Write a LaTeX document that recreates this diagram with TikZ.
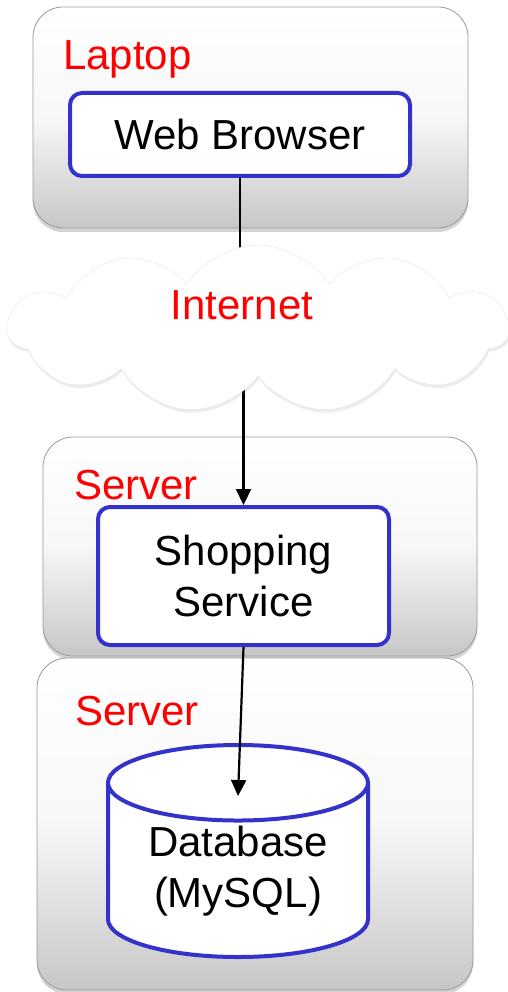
\documentclass[tikz,border=0pt]{standalone}
\usepackage{fontspec}
\setmainfont{Liberation Sans}
\usetikzlibrary{arrows.meta, positioning, shapes.geometric, shapes.symbols, shadows}
\definecolor{boxblue}{HTML}{3333CC}
\definecolor{tagred}{HTML}{FF0000}
\newcommand{\diagfont}{\fontsize{42}{51}\selectfont}

\begin{document}
\begin{tikzpicture}[x=1pt, y=1pt,
    machine/.style={rectangle, rounded corners=30pt, inner sep=0pt,
                    top color=white, bottom color=black!22, middle color=black!3,
                    draw=black!40, line width=0.8pt,
                    drop shadow={shadow xshift=0pt, shadow yshift=-4pt, opacity=0.35}},
    tag/.style={anchor=base west, inner sep=0pt, font=\diagfont, text=tagred},
    app/.style={rectangle, rounded corners=12pt, draw=boxblue, line width=4pt,
                fill=white, align=center, font=\diagfont, inner sep=0pt},
    arr/.style={-{Triangle[length=16pt, width=15pt]}, line width=2.2pt},
    link/.style={line width=2.2pt},
  ]
  \useasboundingbox (0,0) rectangle (508,-992);

  % machines
  \node[machine, minimum width=435, minimum height=221] (laptop) at (250.5,-117.5) {};
  \node[machine, minimum width=434, minimum height=219] (server1) at (260,-546.5) {};
  \node[machine, minimum width=436, minimum height=332] (server2) at (255,-824) {};

  \node[tag] (laptoptag) at (63,-70) {Laptop};
  \node[tag] (server1tag) at (74,-499) {Server};
  \node[tag] (server2tag) at (75,-725) {Server};

  % software
  \node[app, minimum width=340, minimum height=83] (browser) at (240,-134.5) {Web Browser};
  \node[app, minimum width=291, minimum height=138] (shop) at (243.5,-576)
        {Shopping\\Service};
  \node[cylinder, shape border rotate=90, aspect=0.42, draw=boxblue, line width=4pt,
        fill=white, minimum width=260, minimum height=212, inner sep=0pt,
        align=center, font=\diagfont, anchor=shape center] (db) at (238,-851)
        {Database\\(MySQL)};
  \coordinate (dbtop) at ([yshift=-53pt]db.top);

  % links run into the cloud, which is drawn over them
  \coordinate (netc) at (258,-329);
  \draw[link] (browser.south) -- (browser.south |- netc);
  \draw[arr] (shop.north |- netc) -- (shop.north);
  \draw[arr] (shop.south) -- (dbtop);

  % the network
  \node[cloud, cloud puffs=11, cloud puff arc=115, aspect=3, fill=white, draw=black!10,
        minimum width=500, minimum height=168, inner sep=0pt,
        drop shadow={shadow xshift=1pt, shadow yshift=-3pt, opacity=0.15}]
        (net) at (netc) {};
  \node[font=\diagfont, text=tagred, inner sep=0pt] (nettag) at (242,-305) {Internet};
\end{tikzpicture}
\end{document}
